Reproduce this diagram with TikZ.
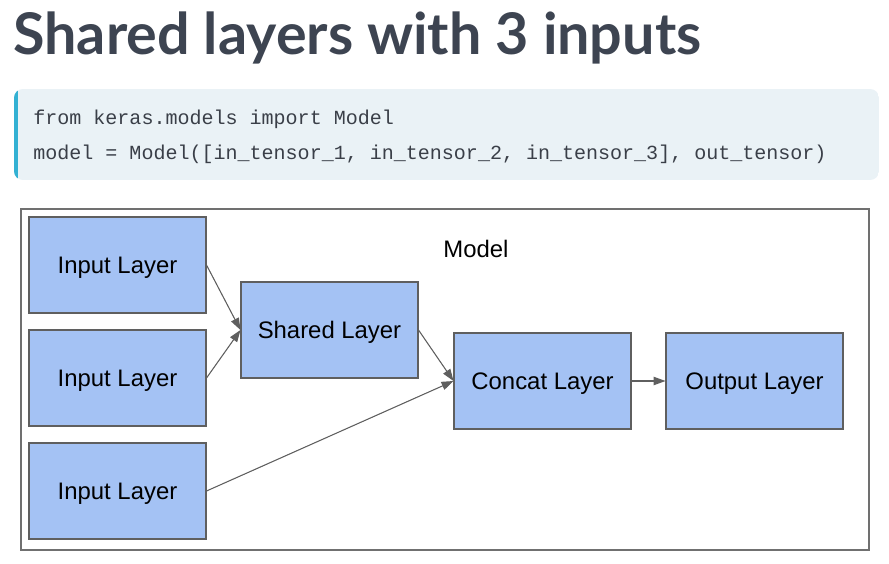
\documentclass[tikz,border=0pt]{standalone}
\usepackage{fontspec}
\setmainfont{Liberation Sans}
\setmonofont{Liberation Mono}
\newfontfamily\titlefont{Lato}
\usetikzlibrary{arrows.meta}
\definecolor{layerblue}{HTML}{A4C2F4}
\definecolor{edgegray}{HTML}{5F5F5F}
\definecolor{framegray}{HTML}{707070}
\definecolor{titlegray}{HTML}{3D4451}
\definecolor{codebg}{HTML}{EAF2F6}
\definecolor{codebar}{HTML}{33B1D3}
\definecolor{codegray}{HTML}{3A3F48}
\begin{document}
\begin{tikzpicture}[x=0.02cm,y=-0.02cm,
  every node/.style={font=\fontsize{13.6}{16}\selectfont},
  layer/.style={draw=edgegray,fill=layerblue,line width=0.6pt,minimum width=3.54cm,minimum height=1.92cm,inner sep=0pt,text height=9.7pt,text depth=0pt},
  codeline/.style={anchor=base west,inner sep=0pt,text=codegray,font=\ttfamily\fontsize{11.4}{14}\selectfont},
  link/.style={-{Triangle[length=6.8pt,width=4.8pt]},draw=edgegray,fill=edgegray,line width=0.6pt}]
\useasboundingbox (0,0) rectangle (889,564);
\node[anchor=base west,inner sep=0pt,text=titlegray,font=\titlefont\bfseries\fontsize{32.7}{38}\selectfont] (title) at (13,55) {Shared layers with 3 inputs};
\begin{scope}
\clip[rounded corners=5pt] (14,89) rectangle (879,180);
\fill[codebg] (14,89) rectangle (879,180);
\fill[codebar] (14,89) rectangle (18,180);
\end{scope}
\node[codeline] (code1) at (33,125) {from keras.models import Model};
\node[codeline] (code2) at (33,160) {model = Model([in\_tensor\_1, in\_tensor\_2, in\_tensor\_3], out\_tensor)};
\draw[framegray,line width=0.6pt] (21,209) rectangle (869,550);
\node[anchor=base] (model) at (476,257) {Model};
\node[layer] (in1) at (117.5,265) {Input Layer};
\node[layer] (in2) at (117.5,378) {Input Layer};
\node[layer] (in3) at (117.5,491) {Input Layer};
\node[layer] (shared) at (329.5,330) {Shared Layer};
\node[layer] (concat) at (542.5,381) {Concat Layer};
\node[layer] (out) at (754.5,381) {Output Layer};
\draw[link] (in1.east) -- (shared.west);
\draw[link] (in2.east) -- (shared.west);
\draw[link] (shared.east) -- (concat.west);
\draw[link] (in3.east) -- (concat.west);
\draw[link] (concat.east) -- (out.west);
\end{tikzpicture}
\end{document}
